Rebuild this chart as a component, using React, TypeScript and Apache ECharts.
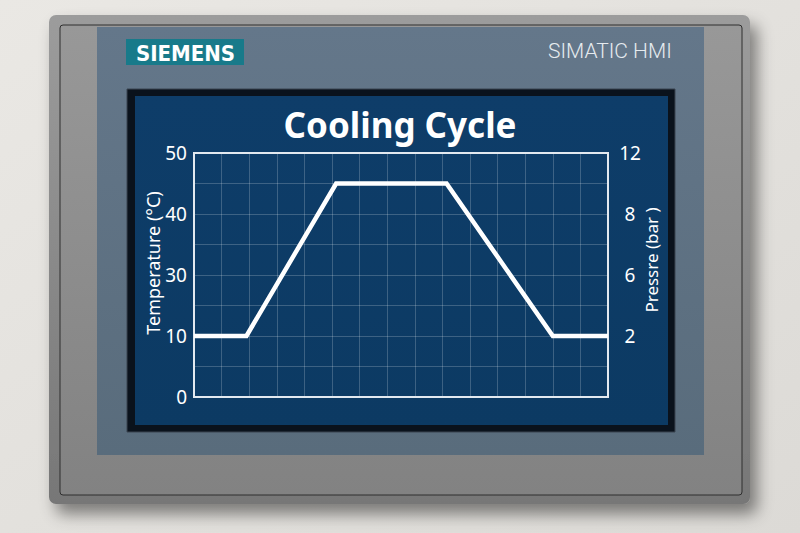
import React, { useEffect, useRef } from "react";
import * as echarts from "echarts";

// ---- data ----
const timeValues = [0, 1.9, 5.15, 9.15, 13, 15];
const temperatureValues = [10, 10, 45, 45, 10, 10];
const temperatureTicks = [0, 10, 30, 40, 50];
const pressureTicks = ["", "2", "6", "8", "12"];
const titleText = "Cooling Cycle";
const leftAxisName = "Temperature (°C)";
const rightAxisName = "Pressre (bar )";
const brandText = "SIEMENS";
const productText = "SIMATIC HMI";

// map a temperature onto the (evenly spaced) tick positions of the left axis
function tempToPos(t: number): number {
  for (let i = 0; i < temperatureTicks.length - 1; i++) {
    const a = temperatureTicks[i];
    const b = temperatureTicks[i + 1];
    if (t >= a && t <= b) return i + (t - a) / (b - a);
  }
  return temperatureTicks.length - 1;
}

export default function App() {
  const ref = useRef<HTMLDivElement>(null);

  useEffect(() => {
    if (!ref.current) return;
    const chart = echarts.init(ref.current, undefined, { renderer: "svg" });
    const seriesData = timeValues.map((x, i) => [x, tempToPos(temperatureValues[i])]);

    const font = "Noto Sans";
    chart.setOption({
      animation: false,
      backgroundColor: {
        type: "linear", x: 0, y: 0, x2: 1, y2: 1,
        colorStops: [
          { offset: 0, color: "#eae8e4" },
          { offset: 1, color: "#dcdad6" },
        ],
      },
      graphic: {
        elements: [
          {
            type: "group",
            z: -10,
            children: [
              // bezel with shadow
              {
                type: "rect", z: -10,
                shape: { x: 49, y: 15, width: 701, height: 489, r: 7 },
                style: {
                  fill: {
                    type: "linear", x: 0, y: 0, x2: 0, y2: 1,
                    colorStops: [
                      { offset: 0, color: "#9c9c9c" },
                      { offset: 1, color: "#777777" },
                    ],
                  },
                  shadowBlur: 16,
                  shadowColor: "rgba(0,0,0,0.45)",
                  shadowOffsetX: 7,
                  shadowOffsetY: 10,
                },
              },
              // inner face
              {
                type: "rect", z: -10,
                shape: { x: 60, y: 25, width: 682, height: 470, r: 3 },
                style: {
                  fill: {
                    type: "linear", x: 0, y: 0, x2: 0, y2: 1,
                    colorStops: [
                      { offset: 0, color: "#989898" },
                      { offset: 1, color: "#828282" },
                    ],
                  },
                  stroke: "#2e2e2e",
                  lineWidth: 1,
                },
              },
              // blue-grey panel
              {
                type: "rect", z: -10,
                shape: { x: 97, y: 27, width: 607, height: 428 },
                style: {
                  fill: {
                    type: "linear", x: 0, y: 0, x2: 0, y2: 1,
                    colorStops: [
                      { offset: 0, color: "#64778a" },
                      { offset: 1, color: "#596c7c" },
                    ],
                  },
                },
              },
              // brand box
              {
                type: "rect", z: -10,
                shape: { x: 126, y: 39, width: 118, height: 26 },
                style: { fill: "#187a8a" },
              },
              {
                type: "text", z: -9,
                x: 185.5, y: 53,
                style: {
                  text: brandText,
                  fill: "#ffffff",
                  fontFamily: "DejaVu Sans Condensed",
                  fontWeight: "bold",
                  fontSize: 22,
                  align: "center",
                  verticalAlign: "middle",
                  textAlign: "center",
                  textVerticalAlign: "middle",
                },
              },
              {
                type: "text", z: -9,
                x: 548, y: 51,
                style: {
                  text: productText,
                  fill: "#e6ebef",
                  fontFamily: "Roboto",
                  fontWeight: 300,
                  fontSize: 21,
                  align: "left",
                  verticalAlign: "middle",
                  textAlign: "left",
                  textVerticalAlign: "middle",
                },
              },
              // screen frame
              {
                type: "rect", z: -10,
                shape: { x: 127, y: 89, width: 548, height: 343 },
                style: { fill: "#0a121c", stroke: "#3a4550", lineWidth: 1 },
              },
              // screen
              {
                type: "rect", z: -10,
                shape: { x: 135, y: 96, width: 533, height: 329 },
                style: {
                  fill: {
                    type: "linear", x: 0, y: 0, x2: 0, y2: 1,
                    colorStops: [
                      { offset: 0, color: "#0e3d69" },
                      { offset: 1, color: "#0c3a63" },
                    ],
                  },
                },
              },
            ],
          },
        ],
      },
      title: {
        text: titleText,
        left: "center",
        top: 102,
        textStyle: {
          color: "#ffffff",
          fontFamily: font,
          fontWeight: "bold",
          fontSize: 35,
        },
      },
      grid: {
        left: 194,
        top: 153,
        width: 414,
        height: 244,
        show: true,
        z: 3,
        backgroundColor: "transparent",
        borderColor: "#e2e9f0",
        borderWidth: 2,
      },
      xAxis: {
        type: "value",
        min: 0,
        max: 15,
        interval: 1,
        axisLine: { show: false },
        axisTick: { show: false },
        axisLabel: { show: false },
        splitLine: { show: true, lineStyle: { color: "rgba(255,255,255,0.2)", width: 1 } },
      },
      yAxis: [
        {
          type: "value",
          position: "left",
          min: 0,
          max: 4,
          interval: 0.5,
          axisLine: { show: false },
          axisTick: { show: false },
          axisLabel: {
            color: "#ffffff",
            fontFamily: font,
            fontSize: 19,
            margin: 7,
            formatter: (v: number) =>
              Number.isInteger(v) ? String(temperatureTicks[v]) : "",
          },
          splitLine: { show: true, lineStyle: { color: "rgba(255,255,255,0.2)", width: 1 } },
          name: leftAxisName,
          nameLocation: "middle",
          nameRotate: 90,
          nameGap: 32,
          nameMoveOverlap: false,
          nameTextStyle: {
            color: "#ffffff",
            fontFamily: font,
            fontSize: 18,
            padding: [0, 0, 0, 24],
          },
        },
        {
          type: "value",
          position: "right",
          min: 0,
          max: 4,
          interval: 1,
          axisLine: { show: false },
          axisTick: { show: false },
          splitLine: { show: false },
          axisLabel: {
            color: "#ffffff",
            fontFamily: font,
            fontSize: 19,
            margin: 22,
            align: "center",
            formatter: (v: number) => pressureTicks[v] ?? "",
          },
          name: rightAxisName,
          nameLocation: "middle",
          nameRotate: 90,
          nameGap: 35,
          nameMoveOverlap: false,
          nameTextStyle: {
            color: "#ffffff",
            fontFamily: font,
            fontSize: 17,
            padding: [0, 0, 0, 30],
          },
        },
      ],
      series: [
        {
          type: "line",
          yAxisIndex: 0,
          data: seriesData,
          symbol: "none",
          lineStyle: { color: "#ffffff", width: 4.5, join: "miter" },
          z: 5,
        },
      ],
    });
    return () => chart.dispose();
  }, []);

  return (
    <div
      ref={ref}
      style={{ position: "absolute", left: 0, top: 0, width: 800, height: 533 }}
    />
  );
}
